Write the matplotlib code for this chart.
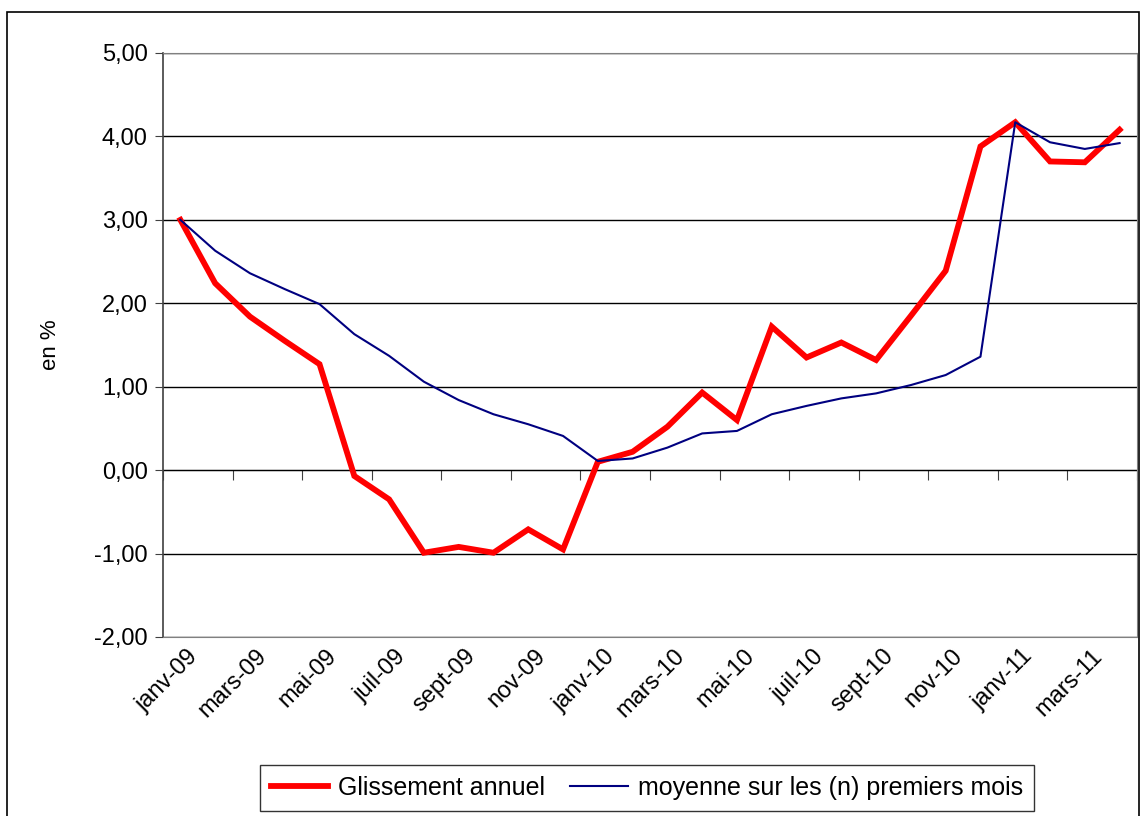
import numpy as np
import matplotlib.pyplot as plt
import matplotlib.transforms as mtransforms
from matplotlib.patches import Rectangle
from matplotlib.ticker import FuncFormatter

plt.rcParams['font.family'] = ['Liberation Sans', 'DejaVu Sans']

# monthly categories janv-09 .. avr-11
mois = ["janv", "févr", "mars", "avr", "mai", "juin", "juil", "août", "sept", "oct", "nov", "déc"]
annees = ["09", "10", "11"]
categories = [f"{m}-{a}" for a in annees for m in mois][:28]

# glissement annuel (%)
glissement = [3.00, 2.24, 1.84, 1.55, 1.27, -0.07, -0.35, -0.99, -0.92, -0.99, -0.71, -0.95,
              0.10, 0.22, 0.52, 0.93, 0.60, 1.72, 1.35, 1.53, 1.32, 1.85, 2.39, 3.88,
              4.17, 3.70, 3.69, 4.08]
# moyenne sur les (n) premiers mois (%)
moyenne = [3.00, 2.63, 2.36, 2.17, 1.99, 1.63, 1.37, 1.06, 0.84, 0.67, 0.55, 0.41,
           0.11, 0.14, 0.27, 0.44, 0.47, 0.67, 0.77, 0.86, 0.92, 1.02, 1.14, 1.36,
           4.17, 3.93, 3.85, 3.92]

y_ticks = [-2, -1, 0, 1, 2, 3, 4, 5]

x = np.arange(len(categories))

fig = plt.figure(figsize=(11.41, 8.16), dpi=100)
ax = fig.add_axes([163/1141, 1 - 637/816, (1137-163)/1141, (637-53)/816])

ax.set_ylim(-2, 5)
ax.set_xlim(-0.5, len(categories) - 0.5)
ax.set_yticks(y_ticks)
ax.yaxis.set_major_formatter(FuncFormatter(lambda v, p: f"{v:.2f}".replace(".", ",")))
ax.yaxis.grid(True, color='black', linewidth=1)
ax.set_axisbelow(True)

ax.plot(x, glissement, color='#ff0000', linewidth=4.2, label='Glissement annuel', solid_joinstyle='miter')
ax.plot(x, moyenne, color='#000080', linewidth=1.5, label='moyenne sur les (n) premiers mois')

for s in ['top', 'right', 'bottom']:
    ax.spines[s].set_color('#808080')
ax.spines['left'].set_color('#404040')
ax.spines['left'].set_linewidth(1.2)

ax.tick_params(axis='y', direction='out', length=6, labelsize=17, pad=5, color='#404040')

# labels at the bottom, every other month
ax.set_xticks(x[::2])
ax.set_xticklabels(categories[::2], rotation=45, ha='right', rotation_mode='anchor', fontsize=17)
ax.tick_params(axis='x', length=0, pad=6)
shift = mtransforms.ScaledTranslation(6/100, 0, fig.dpi_scale_trans)
for lab in ax.get_xticklabels():
    lab.set_transform(lab.get_transform() + shift)

# tick marks along the zero line
sec = ax.secondary_xaxis(2 / 7)
sec.set_xticks(np.arange(-0.5, len(categories), 2))
sec.set_xticklabels([])
sec.tick_params(axis='x', direction='out', length=7, color='#404040')
sec.spines['bottom'].set_color('#404040')

fig.text(50/1141, 1 - 345/816, "en %", rotation=90, ha='center', va='center', fontsize=16)

leg = fig.legend(loc='center', bbox_to_anchor=(647/1141, 1 - 788/816), ncol=2, frameon=True,
                 fancybox=False, fontsize=18, handlelength=2.3, columnspacing=1.0,
                 handletextpad=0.4, borderpad=0.45)
leg.get_frame().set_edgecolor('black')
leg.get_frame().set_linewidth(1)

fig.patches.append(Rectangle((7/1141, -0.01), 1132/1141, 1 - 12/816 + 0.01, transform=fig.transFigure,
                             fill=False, edgecolor='black', linewidth=1.2))

fig.savefig("out.png", dpi=100)
